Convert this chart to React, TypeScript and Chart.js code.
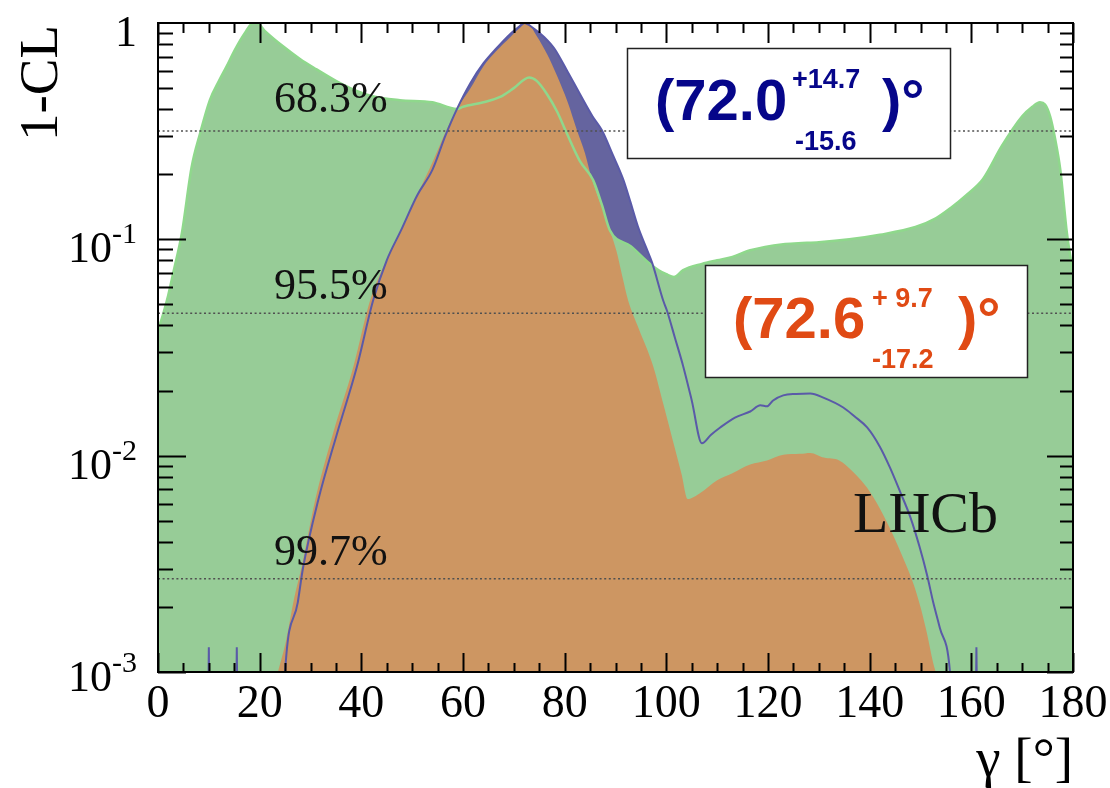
import React, { useEffect, useRef } from "react";
import { Chart, registerables } from "chart.js";
Chart.register(...registerables);

// ---- data (gamma in degrees, 1-CL) ----
const greenGamma = [0, 1, 2, 3, 4.7, 6.6, 8.3, 10.2, 12, 13.5, 15.1, 17.1, 18.7, 19.5, 21, 24.6, 28, 31.2, 35, 37.8, 42, 47.6, 54, 58.8, 60, 64, 67.3, 70, 73, 74.5, 76.5, 78.5, 80.4, 83, 85.6, 87.3, 88.9, 93, 96.8, 98.5, 100, 101.5, 103.3, 107, 110, 113, 116.5, 123, 126, 130, 136, 142, 149, 153, 156, 159, 162.3, 166, 170, 172, 173.5, 174.5, 175.5, 176.5, 177.5, 178.8, 180];
const greenCL = [0.038, 0.045, 0.055, 0.07, 0.107, 0.215, 0.31, 0.44, 0.54, 0.63, 0.75, 0.9, 1.0, 1.0, 0.92, 0.78, 0.68, 0.61, 0.54, 0.5, 0.46, 0.44, 0.43, 0.4, 0.41, 0.43, 0.455, 0.5, 0.56, 0.54, 0.47, 0.39, 0.31, 0.23, 0.188, 0.145, 0.11, 0.093, 0.077, 0.072, 0.069, 0.067, 0.072, 0.077, 0.08, 0.083, 0.089, 0.095, 0.096, 0.097, 0.1, 0.105, 0.114, 0.125, 0.14, 0.16, 0.19, 0.27, 0.37, 0.41, 0.43, 0.42, 0.37, 0.29, 0.21, 0.107, 0.07];

const orangeGamma = [23.6, 25.2, 26.8, 28.3, 30.9, 34.4, 38.4, 41.7, 44.5, 47.6, 51, 54.1, 56.5, 58.8, 61.5, 64, 66.5, 69.3, 71, 72.6, 74.5, 76.5, 78.5, 80.6, 82.4, 84, 85.4, 87.6, 89, 90.2, 91.3, 92.5, 94.5, 97.4, 99.5, 101.3, 103, 104.2, 106.6, 110, 113, 116.5, 119.8, 123, 126.3, 128.3, 131, 134, 137, 139.5, 142, 144.6, 146.5, 148.5, 150, 151.3, 152.5, 153];
const orangeCL = [0.001, 0.0014, 0.0022, 0.0031, 0.0062, 0.0126, 0.0256, 0.052, 0.076, 0.106, 0.16, 0.23, 0.31, 0.4, 0.5, 0.63, 0.74, 0.86, 0.94, 1.0, 0.87, 0.72, 0.57, 0.43, 0.32, 0.25, 0.188, 0.135, 0.108, 0.088, 0.068, 0.052, 0.039, 0.026, 0.017, 0.0117, 0.0082, 0.0063, 0.0067, 0.0077, 0.0083, 0.0091, 0.0095, 0.0101, 0.0102, 0.0103, 0.0098, 0.0095, 0.0083, 0.0071, 0.0057, 0.0043, 0.0034, 0.0026, 0.002, 0.0015, 0.0011, 0.001];

const blueGamma = [24.5, 25, 27.5, 28.5, 31.5, 35.2, 39.1, 42.3, 45, 47.8, 51, 54, 56.5, 58.8, 61.5, 64, 66.5, 69.3, 71, 72, 74, 76, 78, 80.5, 83, 85.5, 87.3, 89.5, 91.5, 92.9, 94.4, 96, 97.2, 99.4, 100.1, 101.7, 103.3, 105, 107, 108.8, 110.6, 113.5, 116.5, 118.5, 119.8, 121, 123, 125.5, 128.3, 131, 134.8, 137, 139.5, 142, 144, 146, 148, 149.8, 151.3, 152.5, 153.8, 155.8, 156.5];
const blueCL = [0.0005, 0.001, 0.0021, 0.003, 0.0062, 0.0126, 0.0256, 0.052, 0.08, 0.11, 0.16, 0.21, 0.3, 0.4, 0.53, 0.65, 0.76, 0.89, 0.96, 1.0, 0.94, 0.86, 0.76, 0.6, 0.47, 0.37, 0.32, 0.245, 0.19, 0.15, 0.115, 0.092, 0.078, 0.052, 0.047, 0.035, 0.026, 0.018, 0.0114, 0.0125, 0.0135, 0.015, 0.016, 0.0171, 0.0169, 0.018, 0.019, 0.0193, 0.0194, 0.0185, 0.0167, 0.0152, 0.0135, 0.011, 0.0088, 0.0068, 0.0052, 0.0038, 0.0028, 0.0021, 0.0016, 0.001, 0.0005];

const spikeGamma = [10, 15.5, 161];
const spikeCL = [0.0013, 0.0013, 0.0013];

const clLevels = [0.317, 0.0455, 0.0027];
const clLabels = ["68.3%", "95.5%", "99.7%"];

const xTickValues = [0, 20, 40, 60, 80, 100, 120, 140, 160, 180];
const yTickValues = [1, 0.1, 0.01, 0.001];
const yTickBase = ["1", "10", "10", "10"];
const yTickExp = ["", "-1", "-2", "-3"];

const resultCentral = ["72.0", "72.6"];
const resultPlus = ["+14.7", "+ 9.7"];
const resultMinus = ["-15.6", "-17.2"];

// ---- styles ----
const GREEN = "#97cc97";
const GREEN_LINE = "#8fd88c";
const ORANGE = "#cd9662";
const BLUE_FILL = "#65649f";
const BLUE_LINE = "#5a5aa8";
const SERIF = '"Liberation Serif", "DejaVu Serif", serif';
const SANS = '"Liberation Sans", Arial, sans-serif';

const pts = (xs: number[], ys: number[]) => xs.map((x, i) => ({ x, y: ys[i] }));

const spikePts = () => {
  const out: any[] = [];
  spikeGamma.forEach((g, i) => {
    out.push({ x: g - 0.18, y: 0.0005 });
    out.push({ x: g, y: spikeCL[i] });
    out.push({ x: g + 0.18, y: 0.0005 });
    out.push({ x: g + 0.3, y: null });
  });
  return out;
};

const overlay = {
  id: "overlay",
  afterDraw(chart: any) {
    const ctx = chart.ctx;
    const xs = chart.scales.x;
    const ys = chart.scales.y;
    const { left, right, top, bottom } = chart.chartArea;
    ctx.save();

    // CL labels
    ctx.fillStyle = "#111";
    ctx.textBaseline = "alphabetic";
    ctx.textAlign = "left";
    ctx.font = `44px ${SERIF}`;
    const clOff = [19, 14, 14];
    clLevels.forEach((lv, i) => {
      ctx.fillText(clLabels[i], xs.getPixelForValue(22.8), ys.getPixelForValue(lv) - clOff[i]);
    });
    // LHCb
    ctx.font = `58px ${SERIF}`;
    ctx.fillText("LHCb", 853, 532);

    // frame
    ctx.strokeStyle = "#000";
    ctx.lineWidth = 2;
    ctx.strokeRect(left, top, right - left, bottom - top);

    // x ticks (inside, bottom and top)
    ctx.lineWidth = 2;
    ctx.beginPath();
    for (let v = xs.min; v <= xs.max + 1e-9; v += 5) {
      const px = Math.round(xs.getPixelForValue(v)) + 0.5;
      const major = Math.abs(v % 20) < 1e-6;
      ctx.moveTo(px, bottom);
      ctx.lineTo(px, bottom - (major ? 19 : 9));
      ctx.moveTo(px, top);
      ctx.lineTo(px, top + (major ? 20 : 10));
    }
    // y ticks (inside, left and right)
    for (let d = ys.min; d < ys.max * 0.999; d *= 10) {
      for (let m = 1; m <= 9; m++) {
        const py = Math.round(ys.getPixelForValue(d * m)) + 0.5;
        ctx.moveTo(left, py);
        ctx.lineTo(left + (m === 1 ? 28 : 15), py);
        ctx.moveTo(right, py);
        ctx.lineTo(right - (m === 1 ? 26 : 13), py);
      }
    }
    ctx.stroke();

    // x tick labels
    ctx.fillStyle = "#000";
    ctx.font = `46px ${SERIF}`;
    ctx.textAlign = "center";
    xTickValues.forEach((v) => {
      ctx.fillText(String(v), xs.getPixelForValue(v), bottom + 45);
    });

    // y tick labels
    yTickValues.forEach((v, i) => {
      const py = ys.getPixelForValue(v);
      const base = py + (i === yTickValues.length - 1 ? 19 : 23);
      ctx.textAlign = "left";
      ctx.font = `30px ${SERIF}`;
      const ew = yTickExp[i] ? ctx.measureText(yTickExp[i]).width : 0;
      ctx.font = `44px ${SERIF}`;
      const bw = ctx.measureText(yTickBase[i]).width;
      const xr = 137;
      ctx.fillText(yTickBase[i], xr - ew - bw, base);
      if (yTickExp[i]) {
        ctx.font = `30px ${SERIF}`;
        ctx.fillText(yTickExp[i], xr - ew, base - 19);
      }
    });

    // axis titles
    ctx.font = `55px ${SERIF}`;
    ctx.textAlign = "right";
    ctx.fillText("\u03b3 [\u00b0]", 1073, 776);
    ctx.save();
    ctx.translate(57, 25);
    ctx.rotate(-Math.PI / 2);
    ctx.textAlign = "right";
    ctx.fillText("1-CL", 0, 0);
    ctx.restore();

    // result boxes
    const boxes = [
      { x: 627, y: 48, w: 323, h: 110, color: "#06068a", cx: 655, cy: 120, px: 792, py: 88, mx: 795, my: 150, ex: 882 },
      { x: 705, y: 265, w: 322, h: 112, color: "#e04a14", cx: 733, cy: 338, px: 872, py: 307, mx: 872, my: 368, ex: 958 },
    ];
    boxes.forEach((b, i) => {
      ctx.fillStyle = "#fff";
      ctx.fillRect(b.x, b.y, b.w, b.h);
      ctx.strokeStyle = "#222";
      ctx.lineWidth = 1.5;
      ctx.strokeRect(b.x + 0.5, b.y + 0.5, b.w, b.h);
      ctx.fillStyle = b.color;
      ctx.textAlign = "left";
      ctx.font = `bold 58px ${SANS}`;
      ctx.fillText("(" + resultCentral[i], b.cx, b.cy);
      ctx.fillText(")\u00b0", b.ex, b.cy);
      ctx.font = `bold 27px ${SANS}`;
      ctx.fillText(resultPlus[i], b.px, b.py);
      ctx.fillText(resultMinus[i], b.mx, b.my);
    });

    ctx.restore();
  },
};

export default function App() {
  const ref = useRef<HTMLCanvasElement>(null);
  useEffect(() => {
    const base = { pointRadius: 0, cubicInterpolationMode: "monotone" as const };
    const dotted = (lv: number, order: number) => ({
      ...base,
      data: [
        { x: 0, y: lv },
        { x: 180, y: lv },
      ],
      borderColor: "#505050",
      borderWidth: 1.6,
      borderDash: [2, 2.6],
      fill: false,
      order,
    });
    const chart = new Chart(ref.current!, {
      type: "line",
      data: {
        datasets: [
          { ...base, data: pts(blueGamma, blueCL), backgroundColor: BLUE_FILL, borderWidth: 0, fill: "start", order: 10 },
          { ...base, data: pts(greenGamma, greenCL), backgroundColor: GREEN, borderWidth: 0, fill: "start", order: 9 },
          { ...base, data: pts(orangeGamma, orangeCL), backgroundColor: ORANGE, borderWidth: 0, fill: "start", order: 8 },
          { ...base, data: pts(greenGamma, greenCL), borderColor: GREEN_LINE, borderWidth: 2.5, fill: false, order: 7 },
          { ...base, data: pts(blueGamma, blueCL), borderColor: BLUE_LINE, borderWidth: 2, fill: false, order: 6 },
          { pointRadius: 0, data: spikePts(), borderColor: BLUE_LINE, borderWidth: 2, fill: false, spanGaps: false, order: 5 },
          ...clLevels.map((lv, i) => dotted(lv, 3 - i)),
        ] as any,
      },
      options: {
        responsive: false,
        animation: false,
        devicePixelRatio: 1,
        parsing: true,
        layout: { padding: { top: 23, right: 37, left: 0, bottom: 0 } },
        plugins: { legend: { display: false }, tooltip: { enabled: false } },
        scales: {
          x: {
            type: "linear",
            min: 0,
            max: 180,
            grid: { display: false },
            border: { display: false },
            ticks: { display: false },
            afterBuildTicks: (s: any) => {
              s.ticks = xTickValues.map((v) => ({ value: v }));
            },
            afterFit: (s: any) => {
              s.height = 116;
            },
          },
          y: {
            type: "logarithmic",
            min: 0.001,
            max: 1,
            grid: { display: false },
            border: { display: false },
            ticks: { display: false },
            afterBuildTicks: (s: any) => {
              s.ticks = yTickValues.map((v) => ({ value: v }));
            },
            afterFit: (s: any) => {
              s.width = 158;
            },
          },
        },
      } as any,
      plugins: [overlay],
    });
    return () => chart.destroy();
  }, []);
  return (
    <div style={{ position: "fixed", left: 0, top: 0, width: 1110, height: 788, background: "#fff" }}>
      <canvas ref={ref} width={1110} height={788} style={{ display: "block", width: 1110, height: 788 }} />
    </div>
  );
}
